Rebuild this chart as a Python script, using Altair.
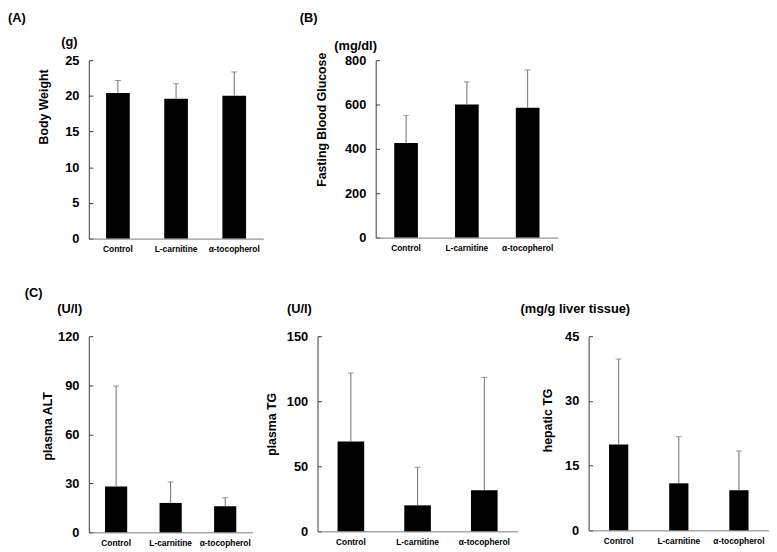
import altair as alt
import pandas as pd

groups = ["Control", "L-carnitine", "α-tocopherol"]

bw_mean = [20.4, 19.6, 20.0]
bw_sd = [1.75, 2.1, 3.35]
fbg_mean = [427, 600, 585]
fbg_sd = [123, 102, 171]
alt_mean = [28.0, 18.0, 16.0]
alt_sd = [61.5, 12.8, 5.2]
tg_mean = [69.0, 20.0, 31.5]
tg_sd = [52.7, 29.3, 86.9]
htg_mean = [19.9, 10.9, 9.3]
htg_sd = [19.8, 10.8, 9.1]

FONT = "Liberation Sans"


def label(s, x, y, opacity=1.0):
    return alt.Chart(pd.DataFrame({"t": [s]})).mark_text(
        align="left", baseline="middle", font=FONT, fontSize=13,
        fontWeight="bold", color="black", opacity=opacity
    ).encode(text="t:N", x=alt.value(x), y=alt.value(y))


def panel(mean, sd, ymax, step, ytitle, width, height, bar, texts,
          title_x, title_y):
    df = pd.DataFrame({"group": groups, "mean": mean, "sd": sd})
    df["upper"] = df["mean"] + df["sd"]
    xaxis = alt.Axis(labelAngle=0, ticks=False, tickSize=0, labelPadding=6,
                     labelFontSize=8.5, labelFont=FONT, labelFontWeight="bold",
                     labelColor="black", domainColor="#7a7a7a", grid=False,
                     labelOverlap=False, title=None)
    xscale = alt.Scale(paddingInner=0, paddingOuter=0)
    ticks = list(range(0, ymax + 1, step))
    yaxis = alt.Axis(values=ticks, tickCount=len(ticks), ticks=False,
                     tickSize=0, labelPadding=10, labelFont=FONT,
                     labelFontSize=13, labelFontWeight="bold",
                     labelColor="black", labelOverlap=False,
                     labelBound=False, labelFlush=False,
                     domainColor="#3a3a3a", grid=True,
                     gridColor="#3a3a3a", gridDash=[4, 2000], gridWidth=1,
                     gridOpacity=1,
                     title=ytitle, titleX=title_x, titleY=title_y,
                     titleAngle=-90, titleAlign="center",
                     titleBaseline="middle", titleFont=FONT,
                     titleFontSize=12.5, titleFontWeight="bold",
                     titleColor="black")
    yscale = alt.Scale(domain=[0, ymax], nice=False, zero=True)
    xenc = alt.X("group:N", sort=groups, title=None, scale=xscale, axis=xaxis)
    base = alt.Chart(df)
    bars = base.mark_bar(color="black", size=bar).encode(
        x=xenc, y=alt.Y("mean:Q", scale=yscale, axis=yaxis, title=ytitle))
    rule = base.mark_rule(color="#6e6e6e", strokeWidth=1).encode(
        x=xenc, y=alt.Y("mean:Q", scale=yscale, axis=yaxis, title=ytitle),
        y2="upper:Q")
    cap = base.mark_tick(color="#6e6e6e", thickness=1, size=6).encode(
        x=xenc, y=alt.Y("upper:Q", scale=yscale, axis=yaxis, title=ytitle))
    layers = [bars, rule, cap] + [label(*t) for t in texts]
    return alt.layer(*layers).properties(width=width, height=height)


pA = panel(bw_mean, bw_sd, 25, 5, "Body Weight", 177, 181, 24,
           [("(A)", -82, -43), ("(g)", -28, -18)], -46, 47)
pB = panel(fbg_mean, fbg_sd, 800, 200, "Fasting Blood Glucose", 185, 180, 24,
           [("(B)", -77, -43), ("(mg/dl)", -42, -14)], -55, 60)
pC1 = panel(alt_mean, alt_sd, 120, 30, "plasma ALT", 166, 199, 22.5,
            [("(C)", -65, -44), ("(C)", -79, -44, 0.0), ("(U/l)", -32, -28)],
            -41.5, 91)
pC2 = panel(tg_mean, tg_sd, 150, 50, "plasma TG", 203, 198, 27,
            [("(U/l)", -31, -28), ("(U/l)", -63, -28, 0.0)], -47, 89)
pC3 = panel(htg_mean, htg_sd, 45, 15, "hepatic TG", 183, 197, 19.5,
            [("(mg/g liver tissue)", -69, -28)], -42, 85)

row1 = alt.hconcat(pA, pB, spacing=37)
row2 = alt.hconcat(pC1, pC2, pC3, spacing=3)

chart = alt.vconcat(row1, row2, spacing=34).properties(
    padding=0, background="white"
).configure_view(stroke=None)

chart.save("out.html", embed_options={"renderer": "svg", "actions": False})
